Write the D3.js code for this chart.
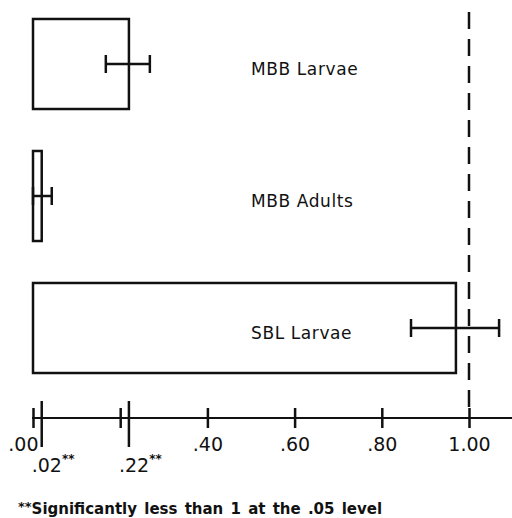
<!DOCTYPE html>
<html>
<head>
<meta charset="utf-8">
<script src="https://cdn.jsdelivr.net/npm/d3@7"></script>
<style>
body { margin: 0; background: #fff; }
text { font-family: "DejaVu Sans", sans-serif; fill: #111; }
</style>
</head>
<body>
<script>
var groups = ["MBB Larvae", "MBB Adults", "SBL Larvae"]
var ratio = [0.22, 0.02, 0.97]
var err_lo = [0.167, 0.0, 0.867]
var err_hi = [0.268, 0.043, 1.069]
var axis_ticks = [0, 0.2, 0.4, 0.6, 0.8, 1.0]
var axis_labels = [".00", "", ".40", ".60", ".80", "1.00"]
var signif = [0.02, 0.22]
var signif_labels = [".02", ".22"]
var footnote = "Significantly less than 1 at the .05 level"

const width = 512
const height = 518
const axis_y = 418

var svg = d3.select("body").append("svg").attr("width", width).attr("height", height)

var xScale = d3.scaleLinear().domain([0, 1]).range([33, 469])
var yScale = d3.scaleBand().domain(groups).range([-2, 394]).paddingInner(0.318).paddingOuter(0.159)

// bars
svg.selectAll("rect.bar").data(groups).enter().append("rect")
    .attr("class", "bar")
    .attr("x", xScale(0))
    .attr("y", (d) => yScale(d))
    .attr("width", (d, i) => xScale(ratio[i]) - xScale(0))
    .attr("height", yScale.bandwidth())
    .attr("fill", "none")
    .attr("stroke", "#111")
    .attr("stroke-width", 2.5)

// reference line at 1.00
svg.append("line")
    .attr("x1", xScale(1)).attr("x2", xScale(1))
    .attr("y1", 12).attr("y2", axis_y)
    .attr("stroke", "#111")
    .attr("stroke-width", 2.5)
    .attr("stroke-dasharray", "17,10")

// error bars
var eb = svg.selectAll("g.err").data(groups).enter().append("g").attr("class", "err")
    .attr("transform", (d) => "translate(0," + (yScale(d) + yScale.bandwidth() / 2) + ")")
    .attr("stroke", "#111")
    .attr("stroke-width", 2.5)
eb.append("line").attr("x1", (d, i) => xScale(err_lo[i])).attr("x2", (d, i) => xScale(err_hi[i]))
eb.append("line").attr("x1", (d, i) => xScale(err_lo[i])).attr("x2", (d, i) => xScale(err_lo[i]))
    .attr("y1", -9).attr("y2", 9)
eb.append("line").attr("x1", (d, i) => xScale(err_hi[i])).attr("x2", (d, i) => xScale(err_hi[i]))
    .attr("y1", -9).attr("y2", 9)

// group labels
svg.selectAll("text.grp").data(groups).enter().append("text")
    .attr("class", "grp")
    .attr("x", 251)
    .attr("y", (d) => yScale(d) + yScale.bandwidth() / 2 + 11)
    .attr("font-size", 17)
    .attr("letter-spacing", 0.6)
    .text((d) => d)

// axis
svg.append("line")
    .attr("x1", xScale(0) - 1).attr("x2", width)
    .attr("y1", axis_y).attr("y2", axis_y)
    .attr("stroke", "#111").attr("stroke-width", 2)

var axis = svg.append("g")
    .attr("transform", "translate(0," + axis_y + ")")
    .call(d3.axisBottom(xScale).tickValues(axis_ticks).tickFormat((d, i) => axis_labels[i]).tickSize(10))
    .attr("font-family", null).attr("font-size", null)
axis.select(".domain").remove()
axis.selectAll(".tick line").attr("y1", -10).attr("y2", 10).attr("stroke", "#111").attr("stroke-width", 2.5)
axis.selectAll(".tick text").attr("y", 33).attr("dy", 0).attr("font-size", 19).attr("fill", "#111")
axis.select(".tick text").attr("text-anchor", "end").attr("x", 5)

// significant values
svg.selectAll("line.sig").data(signif).enter().append("line")
    .attr("class", "sig")
    .attr("x1", (d) => xScale(d)).attr("x2", (d) => xScale(d))
    .attr("y1", axis_y - 17).attr("y2", axis_y + 29)
    .attr("stroke", "#111").attr("stroke-width", 2.5)

var sl = svg.selectAll("text.sig").data(signif).enter().append("text")
    .attr("class", "sig")
    .attr("x", (d) => xScale(d) - 10)
    .attr("y", axis_y + 54)
    .attr("font-size", 19)
sl.append("tspan").text((d, i) => signif_labels[i])
sl.append("tspan").attr("font-size", 12).attr("font-weight", "bold").attr("dy", -9).text("**")

// footnote
var fn = svg.append("text").attr("x", 18).attr("y", 514).attr("font-size", 15).attr("font-weight", "bold")
fn.append("tspan").attr("font-size", 13).attr("dy", -3).text("**")
fn.append("tspan").attr("dy", 3).attr("word-spacing", 2).text(footnote)
</script>
</body>
</html>
